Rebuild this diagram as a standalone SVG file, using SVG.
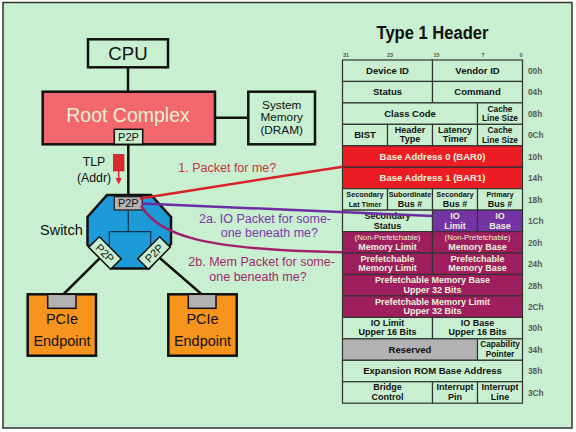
<svg xmlns="http://www.w3.org/2000/svg" width="576" height="432" viewBox="0 0 576 432">
<style>
text{font-family:"Liberation Sans",Arial,sans-serif}
.bx{stroke:#111;stroke-width:2.5}
.c{fill:#c8efcf;stroke:#333;stroke-width:1.2}
.r{fill:#ec1c24;stroke:#333;stroke-width:1.2}
.p{fill:#7434a6;stroke:#333;stroke-width:1.2}
.m{fill:#9e1e5e;stroke:#333;stroke-width:1.2}
.y{fill:#b2b2b2;stroke:#333;stroke-width:1.2}
.t{font-size:9.5px;font-weight:bold;fill:#111;text-anchor:middle}
.t2{font-size:9px;font-weight:bold;fill:#111;text-anchor:middle}
.s{font-size:7.3px;font-weight:bold;fill:#111;text-anchor:middle}
.k{font-size:8.3px;font-weight:bold;fill:#111;text-anchor:middle}
.w{font-size:9.5px;font-weight:bold;fill:#edf3dc;text-anchor:middle}
.w2{font-size:9px;font-weight:bold;fill:#edf3dc;text-anchor:middle}
.wn{font-size:7.8px;fill:#edf3dc;text-anchor:middle}
.o{font-size:8.3px;font-weight:bold;fill:#5a5a5a}
.b{font-size:5.5px;font-weight:bold;fill:#555}
.lbl{font-size:12.5px}
.sm{font-size:11.8px;fill:#111;text-anchor:middle}
</style>
<rect x="0" y="0" width="576" height="432" fill="#ffffff"/>
<rect x="3" y="2.5" width="569" height="425.5" fill="#c8efcf" stroke="#333" stroke-width="1.5"/>

<g id="cpu">
<line x1="128" y1="67" x2="128" y2="92" stroke="#111" stroke-width="2.5"/>
<rect class="bx" x="88" y="39.3" width="80" height="28" fill="#c8efcf"/>
<text x="128" y="59.5" font-size="18.6" text-anchor="middle" fill="#111">CPU</text>
</g>

<g id="sysmem">
<line x1="215" y1="117.7" x2="248.3" y2="117.7" stroke="#111" stroke-width="2.5"/>
<rect class="bx" x="248.3" y="91.7" width="66.7" height="52.6" fill="#c8efcf"/>
<text class="sm" x="281.7" y="108.8">System</text>
<text class="sm" x="281.7" y="121.4">Memory</text>
<text class="sm" x="281.7" y="134">(DRAM)</text>
</g>

<g id="rootcomplex">
<line x1="128.3" y1="144" x2="128.3" y2="196" stroke="#111" stroke-width="2.5"/>
<rect class="bx" x="42.7" y="91.7" width="172.3" height="52.6" fill="#f2686d"/>
<text x="128" y="121.5" font-size="19.5" text-anchor="middle" fill="#e3f0d5">Root Complex</text>
<rect x="114.3" y="129.3" width="28.4" height="15" fill="#c8efcf" stroke="#111" stroke-width="1.5"/>
<text x="128.5" y="141" font-size="11" text-anchor="middle" fill="#111">P2P</text>
</g>

<g id="tlp">
<text x="94" y="165.7" font-size="12.3" text-anchor="middle" fill="#111">TLP</text>
<text x="94" y="181.7" font-size="12.3" text-anchor="middle" fill="#111">(Addr)</text>
<rect x="113.3" y="154.3" width="10.7" height="16.7" fill="#dc2a2e" stroke="#b01c20" stroke-width="0.6"/>
<line x1="118.7" y1="171" x2="118.7" y2="179" stroke="#e02a2e" stroke-width="1.5"/>
<polygon points="115.5,178 121.9,178 118.7,184.5" fill="#e02a2e"/>
</g>

<g id="endpoint1">
<line x1="105" y1="253" x2="62.7" y2="295" stroke="#111" stroke-width="2.5"/>
<rect class="bx" x="27.7" y="294.3" width="68.3" height="61.4" fill="#f7941d"/>
<rect x="47.7" y="294.3" width="28.3" height="14" fill="#b2b2b2" stroke="#111" stroke-width="1.5"/>
<text x="62" y="324.3" font-size="14.5" text-anchor="middle" fill="#111">PCIe</text>
<text x="62" y="345.7" font-size="14.5" text-anchor="middle" fill="#111">Endpoint</text>
</g>

<g id="endpoint2">
<line x1="154" y1="253" x2="202.5" y2="295" stroke="#111" stroke-width="2.5"/>
<rect class="bx" x="168.3" y="294.3" width="68.4" height="61.4" fill="#f7941d"/>
<rect x="188.3" y="294.3" width="27.7" height="14" fill="#b2b2b2" stroke="#111" stroke-width="1.5"/>
<text x="202.5" y="324.3" font-size="14.5" text-anchor="middle" fill="#111">PCIe</text>
<text x="202.5" y="345.7" font-size="14.5" text-anchor="middle" fill="#111">Endpoint</text>
</g>

<g id="switch">
<polygon class="bx" points="107,195 151,195 171,217 171,244 149,268.5 111,268.5 87.5,245 87.5,217" fill="#1c9bd8"/>
<polyline points="128.3,210 128.3,231.7" fill="none" stroke="#0d3550" stroke-width="1.2"/>
<polyline points="109.3,250 109.3,231.7 150.7,231.7 150.7,250" fill="none" stroke="#0d3550" stroke-width="1.2"/>
<rect x="114.3" y="196.7" width="28" height="13.3" fill="#b4b4b4" stroke="#222" stroke-width="1.3"/>
<text x="128.3" y="207.3" font-size="11" text-anchor="middle" fill="#111">P2P</text>
<g transform="translate(105,253) rotate(45)">
<rect x="-15.5" y="-7.5" width="31" height="15" fill="#c8efcf" stroke="#111" stroke-width="1.5"/>
<text x="0" y="4" font-size="11" text-anchor="middle" fill="#111">P2P</text>
</g>
<g transform="translate(154,253) rotate(-45)">
<rect x="-15.5" y="-7.5" width="31" height="15" fill="#c8efcf" stroke="#111" stroke-width="1.5"/>
<text x="0" y="4" font-size="11" text-anchor="middle" fill="#111">P2P</text>
</g>
<text x="40" y="235" font-size="14.5" fill="#111">Switch</text>
</g>

<g id="header">
<text x="432.5" y="39" font-size="18" font-weight="bold" text-anchor="middle" fill="#111" textLength="112" lengthAdjust="spacingAndGlyphs">Type 1 Header</text>
<text class="b" x="343" y="56.5">31</text>
<text class="b" x="387" y="56.5">23</text>
<text class="b" x="433.5" y="56.5">15</text>
<text class="b" x="481.5" y="56.5">7</text>
<text class="b" x="519.5" y="56.5">0</text>

<!-- 00h -->
<rect class="c" x="342.5" y="60" width="90" height="21.45"/>
<rect class="c" x="432.5" y="60" width="90" height="21.45"/>
<text class="t" x="387.5" y="74">Device ID</text>
<text class="t" x="477.5" y="74">Vendor ID</text>
<!-- 04h -->
<rect class="c" x="342.5" y="81.45" width="90" height="21.45"/>
<rect class="c" x="432.5" y="81.45" width="90" height="21.45"/>
<text class="t" x="387.5" y="95.45">Status</text>
<text class="t" x="477.5" y="95.45">Command</text>
<!-- 08h -->
<rect class="c" x="342.5" y="102.9" width="135" height="21.45"/>
<rect class="c" x="477.5" y="102.9" width="45" height="21.45"/>
<text class="t" x="410" y="116.9">Class Code</text>
<text class="k" x="500" y="111.8">Cache</text>
<text class="k" x="500" y="121.2">Line Size</text>
<!-- 0Ch -->
<rect class="c" x="342.5" y="124.35" width="45" height="21.45"/>
<rect class="c" x="387.5" y="124.35" width="45" height="21.45"/>
<rect class="c" x="432.5" y="124.35" width="45" height="21.45"/>
<rect class="c" x="477.5" y="124.35" width="45" height="21.45"/>
<text class="t" x="365" y="138.35">BIST</text>
<text class="t2" x="410" y="132.9">Header</text>
<text class="t2" x="410" y="142.3">Type</text>
<text class="t2" x="455" y="132.9">Latency</text>
<text class="t2" x="455" y="142.3">Timer</text>
<text class="k" x="500" y="133.2">Cache</text>
<text class="k" x="500" y="142.6">Line Size</text>
<!-- 10h -->
<rect class="r" x="342.5" y="145.8" width="180" height="21.45"/>
<text class="w" x="432.5" y="159.8">Base Address 0 (BAR0)</text>
<!-- 14h -->
<rect class="r" x="342.5" y="167.25" width="180" height="21.45"/>
<text class="w" x="432.5" y="181.25">Base Address 1 (BAR1)</text>
<!-- 18h -->
<rect class="c" x="342.5" y="188.7" width="45" height="21.45"/>
<rect class="c" x="387.5" y="188.7" width="45" height="21.45"/>
<rect class="c" x="432.5" y="188.7" width="45" height="21.45"/>
<rect class="c" x="477.5" y="188.7" width="45" height="21.45"/>
<text class="s" x="365" y="197.3">Secondary</text>
<text class="s" x="365" y="206.6">Lat Timer</text>
<text class="s" x="410" y="197.3">Subordinate</text>
<text class="t2" x="410" y="206.8">Bus #</text>
<text class="s" x="455" y="197.3">Secondary</text>
<text class="t2" x="455" y="206.8">Bus #</text>
<text class="s" x="500" y="197.3">Primary</text>
<text class="t2" x="500" y="206.8">Bus #</text>
<!-- 1Ch -->
<rect class="c" x="342.5" y="210.15" width="90" height="21.45"/>
<rect class="p" x="432.5" y="210.15" width="45" height="21.45"/>
<rect class="p" x="477.5" y="210.15" width="45" height="21.45"/>
<text class="t2" x="387.5" y="219.3">Secondary</text>
<text class="t2" x="387.5" y="228.9">Status</text>
<text class="w2" x="455" y="219.3">IO</text>
<text class="w2" x="455" y="228.9">Limit</text>
<text class="w2" x="500" y="219.3">IO</text>
<text class="w2" x="500" y="228.9">Base</text>
<!-- 20h -->
<rect class="m" x="342.5" y="231.6" width="90" height="21.45"/>
<rect class="m" x="432.5" y="231.6" width="90" height="21.45"/>
<text class="wn" x="387.5" y="240.4">(Non-Prefetchable)</text>
<text class="w2" x="387.5" y="250">Memory Limit</text>
<text class="wn" x="477.5" y="240.4">(Non-Prefetchable)</text>
<text class="w2" x="477.5" y="250">Memory Base</text>
<!-- 24h -->
<rect class="m" x="342.5" y="253.05" width="90" height="21.45"/>
<rect class="m" x="432.5" y="253.05" width="90" height="21.45"/>
<text class="w2" x="387.5" y="261.6">Prefetchable</text>
<text class="w2" x="387.5" y="271">Memory Limit</text>
<text class="w2" x="477.5" y="261.6">Prefetchable</text>
<text class="w2" x="477.5" y="271">Memory Base</text>
<!-- 28h -->
<rect class="m" x="342.5" y="274.5" width="180" height="21.45"/>
<text class="w2" x="432.5" y="283.1">Prefetchable Memory Base</text>
<text class="w2" x="432.5" y="292.5">Upper 32 Bits</text>
<!-- 2Ch -->
<rect class="m" x="342.5" y="295.95" width="180" height="21.45"/>
<text class="w2" x="432.5" y="304.5">Prefetchable Memory Limit</text>
<text class="w2" x="432.5" y="313.9">Upper 32 Bits</text>
<!-- 30h -->
<rect class="c" x="342.5" y="317.4" width="90" height="21.45"/>
<rect class="c" x="432.5" y="317.4" width="90" height="21.45"/>
<text class="t2" x="387.5" y="326">IO Limit</text>
<text class="t2" x="387.5" y="335.4">Upper 16 Bits</text>
<text class="t2" x="477.5" y="326">IO Base</text>
<text class="t2" x="477.5" y="335.4">Upper 16 Bits</text>
<!-- 34h -->
<rect class="y" x="342.5" y="338.85" width="135" height="21.45"/>
<rect class="c" x="477.5" y="338.85" width="45" height="21.45"/>
<text class="t" x="410" y="352.85">Reserved</text>
<text class="k" x="500" y="347.4">Capability</text>
<text class="k" x="500" y="356.8">Pointer</text>
<!-- 38h -->
<rect class="c" x="342.5" y="360.3" width="180" height="21.45"/>
<text class="t" x="432.5" y="374.3">Expansion ROM Base Address</text>
<!-- 3Ch -->
<rect class="c" x="342.5" y="381.75" width="90" height="21.45"/>
<rect class="c" x="432.5" y="381.75" width="45" height="21.45"/>
<rect class="c" x="477.5" y="381.75" width="45" height="21.45"/>
<text class="t2" x="387.5" y="390.4">Bridge</text>
<text class="t2" x="387.5" y="399.8">Control</text>
<text class="t2" x="455" y="390.4">Interrupt</text>
<text class="t2" x="455" y="399.8">Pin</text>
<text class="t2" x="500" y="390.4">Interrupt</text>
<text class="t2" x="500" y="399.8">Line</text>

<text class="o" x="528" y="74">00h</text>
<text class="o" x="528" y="95.45">04h</text>
<text class="o" x="528" y="116.9">08h</text>
<text class="o" x="528" y="138.35">0Ch</text>
<text class="o" x="528" y="159.8">10h</text>
<text class="o" x="528" y="181.25">14h</text>
<text class="o" x="528" y="202.7">18h</text>
<text class="o" x="528" y="224.15">1Ch</text>
<text class="o" x="528" y="245.6">20h</text>
<text class="o" x="528" y="267.05">24h</text>
<text class="o" x="528" y="288.5">28h</text>
<text class="o" x="528" y="309.95">2Ch</text>
<text class="o" x="528" y="331.4">30h</text>
<text class="o" x="528" y="352.85">34h</text>
<text class="o" x="528" y="374.3">38h</text>
<text class="o" x="528" y="395.75">3Ch</text>
</g>

<g id="connectors" fill="none" stroke-width="2.5">
<line x1="140" y1="198.5" x2="342.5" y2="166.7" stroke="#d9202c"/>
<line x1="141.5" y1="203.5" x2="432.5" y2="216" stroke="#6c2ca2"/>
<path d="M141,206 C160,235 200,250 342.5,252.3" stroke="#a0206a"/>
</g>

<g id="labels">
<text class="lbl" x="178.3" y="172.3" fill="#c8343e">1. Packet for me?</text>
<text class="lbl" x="199" y="223.3" fill="#7a38aa">2a. IO Packet for some-</text>
<text class="lbl" x="220.7" y="237.3" fill="#7a38aa">one beneath me?</text>
<text class="lbl" x="188.3" y="266" fill="#a02a70">2b. Mem Packet for some-</text>
<text class="lbl" x="209.3" y="281" fill="#a02a70">one beneath me?</text>
</g>
</svg>
